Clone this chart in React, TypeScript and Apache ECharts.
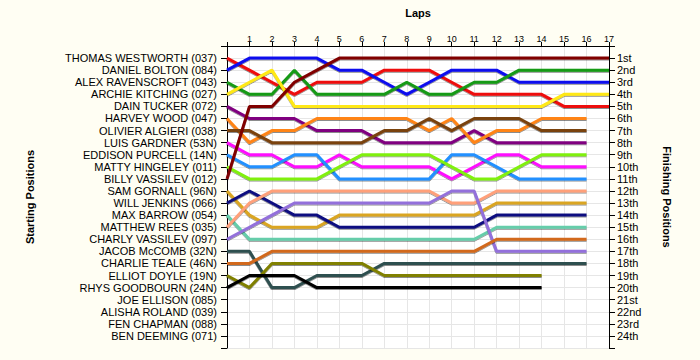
import React, { useEffect, useRef } from "react";
import * as echarts from "echarts";

const startNames = [
  "THOMAS WESTWORTH (037)",
  "DANIEL BOLTON (084)",
  "ALEX RAVENSCROFT (043)",
  "ARCHIE KITCHING (027)",
  "DAIN TUCKER (072)",
  "HARVEY WOOD (047)",
  "OLIVIER ALGIERI (038)",
  "LUIS GARDNER (53N)",
  "EDDISON PURCELL (14N)",
  "MATTY HINGELEY (011)",
  "BILLY VASSILEV (012)",
  "SAM GORNALL (96N)",
  "WILL JENKINS (066)",
  "MAX BARROW (054)",
  "MATTHEW REES (035)",
  "CHARLY VASSILEV (097)",
  "JACOB McCOMB (32N)",
  "CHARLIE TEALE (46N)",
  "ELLIOT DOYLE (19N)",
  "RHYS GOODBOURN (24N)",
  "JOE ELLISON (085)",
  "ALISHA ROLAND (039)",
  "FEN CHAPMAN (088)",
  "BEN DEEMING (071)",
];

const finishLabels = [
  "1st", "2nd", "3rd", "4th", "5th", "6th", "7th", "8th", "9th", "10th", "11th", "12th",
  "13th", "14th", "15th", "16th", "17th", "18th", "19th", "20th", "21st", "22nd", "23rd", "24th",
];

// positions by lap (index = lap, starting at lap 0)
const posWestworth = [1, 2, 3, 4, 3, 3, 3, 2, 2, 2, 3, 4, 4, 4, 4, 5, 5, 5];
const posBolton = [2, 1, 1, 1, 1, 2, 2, 3, 4, 3, 2, 2, 2, 3, 3, 3, 3, 3];
const posRavenscroft = [3, 4, 4, 2, 4, 4, 4, 4, 3, 4, 4, 3, 3, 2, 2, 2, 2, 2];
const posKitching = [4, 3, 2, 5, 5, 5, 5, 5, 5, 5, 5, 5, 5, 5, 5, 4, 4, 4];
const posTucker = [5, 6, 6, 6, 7, 7, 7, 8, 8, 8, 8, 7, 8, 8, 8, 8, 8];
const posWood = [6, 8, 7, 7, 6, 6, 6, 6, 6, 7, 6, 8, 7, 7, 6, 6, 6];
const posAlgieri = [7, 7, 8, 8, 8, 8, 8, 7, 7, 6, 7, 6, 6, 6, 7, 7, 7];
const posGardner = [8, 9, 9, 10, 10, 9, 10, 10, 10, 10, 11, 10, 9, 9, 10, 10, 10];
const posPurcell = [9, 10, 10, 9, 9, 11, 11, 11, 11, 11, 9, 9, 10, 11, 11, 11, 11];
const posHingeley = [10, 11, 11, 11, 11, 10, 9, 9, 9, 9, 10, 11, 11, 10, 9, 9, 9];
const posBVassilev = [11, 5, 5, 3, 2, 1, 1, 1, 1, 1, 1, 1, 1, 1, 1, 1, 1, 1];
const posGornall = [12, 14, 15, 15, 15, 14, 14, 14, 14, 14, 14, 14, 13, 13, 13, 13, 13];
const posJenkins = [13, 12, 13, 14, 14, 15, 15, 15, 15, 15, 15, 15, 14, 14, 14, 14, 14];
const posBarrow = [14, 16, 16, 16, 16, 16, 16, 16, 16, 16, 16, 16, 15, 15, 15, 15, 15];
const posRees = [15, 13, 12, 12, 12, 12, 12, 12, 12, 12, 13, 13, 12, 12, 12, 12, 12];
const posCVassilev = [16, 15, 14, 13, 13, 13, 13, 13, 13, 13, 12, 12, 17, 17, 17, 17, 17];
const posMcComb = [17, 17, 20, 20, 19, 19, 19, 18, 18, 18, 18, 18, 18, 18, 18, 18, 18];
const posTeale = [18, 18, 17, 17, 17, 17, 17, 17, 17, 17, 17, 17, 16, 16, 16, 16, 16];
const posDoyle = [19, 20, 18, 18, 18, 18, 18, 19, 19, 19, 19, 19, 19, 19, 19];
const posGoodbourn = [20, 19, 19, 19, 20, 20, 20, 20, 20, 20, 20, 20, 20, 20, 20];

const driverPositions = [
  posWestworth, posBolton, posRavenscroft, posKitching, posTucker, posWood, posAlgieri,
  posGardner, posPurcell, posHingeley, posBVassilev, posGornall, posJenkins, posBarrow,
  posRees, posCVassilev, posMcComb, posTeale, posDoyle, posGoodbourn,
];

const driverColors = [
  "#EE1111", "#1111EE", "#159A15", "#FFE812", "#800080", "#FF8418", "#7A4210",
  "#FF10FF", "#2090FF", "#80F010", "#800000", "#DAA520", "#101080", "#66CDAA",
  "#FFA07A", "#9370DB", "#2F4F4F", "#D2691E", "#808000", "#000000",
];

export default function App() {
  const ref = useRef<HTMLDivElement>(null);
  useEffect(() => {
    if (!ref.current) return;
    const chart = echarts.init(ref.current, null, { renderer: "svg" });
    const font = "Liberation Sans, Arial, sans-serif";
    const series = driverPositions.map((pos, i) => ({
      type: "line",
      name: startNames[i],
      data: pos.map((p, lap) => [lap, p]),
      symbol: "none",
      lineStyle: {
        width: 3,
        color: driverColors[i],
        shadowColor: "rgba(0,0,0,0.45)",
        shadowBlur: 1,
        shadowOffsetY: 1,
        shadowOffsetX: 0,
      },
      z: 3,
    }));
    chart.setOption({
      animation: false,
      backgroundColor: "#FFFEF3",
      grid: {
        left: 227,
        right: 91,
        top: 46,
        bottom: 12,
        show: true,
        backgroundColor: "#FFFFFF",
        borderWidth: 0,
      },
      xAxis: {
        type: "value",
        position: "top",
        min: 0,
        max: 17,
        interval: 1,
        name: "Laps",
        nameLocation: "middle",
        nameGap: 28,
        nameTextStyle: { fontFamily: font, fontSize: 11, fontWeight: "bold", color: "#000" },
        axisLine: { show: true, lineStyle: { color: "#000", width: 1 } },
        axisTick: { show: true, length: 4, lineStyle: { color: "#000" } },
        axisLabel: {
          fontFamily: font,
          fontSize: 9,
          color: "#000",
          margin: 3,
          formatter: (v: number) => (v === 0 ? "" : String(v)),
        },
        splitLine: { show: true, lineStyle: { color: "#E6E6E6", width: 1 } },
      },
      yAxis: [
        {
          type: "value",
          inverse: true,
          min: 0,
          max: 25,
          interval: 1,
          position: "left",
          name: "Starting Positions",
          nameLocation: "middle",
          nameGap: 192,
          nameRotate: 90,
          nameTextStyle: { fontFamily: font, fontSize: 11, fontWeight: "bold", color: "#000" },
          axisLine: { show: true, lineStyle: { color: "#000", width: 1 } },
          axisTick: { show: true, length: 6, lineStyle: { color: "#000" } },
          axisLabel: {
            fontFamily: font,
            fontSize: 11,
            color: "#000",
            margin: 10,
            formatter: (v: number) => (v >= 1 && v <= startNames.length ? startNames[v - 1] : ""),
          },
          splitLine: { show: true, lineStyle: { color: "#E6E6E6", width: 1 } },
        },
        {
          type: "value",
          inverse: true,
          min: 0,
          max: 25,
          interval: 1,
          position: "right",
          name: "Finishing Positions",
          nameLocation: "middle",
          nameGap: 52,
          nameRotate: -90,
          nameTextStyle: { fontFamily: font, fontSize: 11, fontWeight: "bold", color: "#000" },
          axisLine: { show: true, lineStyle: { color: "#000", width: 1 } },
          axisTick: { show: true, length: 6, lineStyle: { color: "#000" } },
          axisLabel: {
            fontFamily: font,
            fontSize: 11,
            color: "#000",
            margin: 8,
            formatter: (v: number) => (v >= 1 && v <= finishLabels.length ? finishLabels[v - 1] : ""),
          },
          splitLine: { show: false },
        },
      ],
      series,
    });
    return () => chart.dispose();
  }, []);
  return (
    <div
      ref={ref}
      style={{ position: "fixed", left: 0, top: 0, width: 700, height: 360 }}
    />
  );
}
